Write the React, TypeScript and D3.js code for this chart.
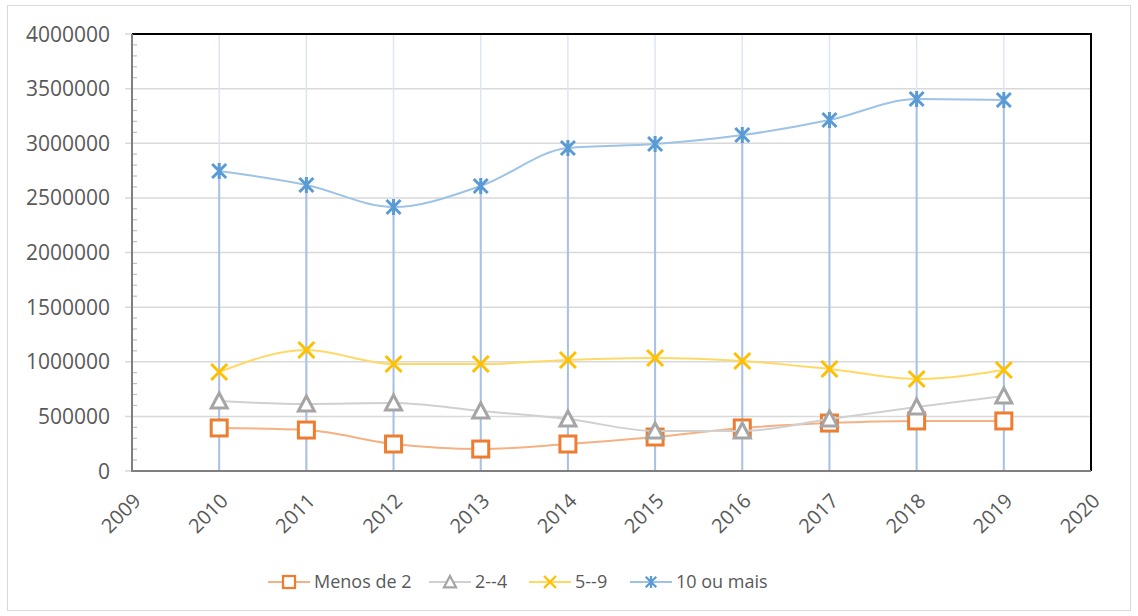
import * as d3 from "d3";
import { useEffect, useRef } from "react";

const years = [2010, 2011, 2012, 2013, 2014, 2015, 2016, 2017, 2018, 2019];
const xTicks = [2009, 2010, 2011, 2012, 2013, 2014, 2015, 2016, 2017, 2018, 2019, 2020];
const yTicks = [0, 500000, 1000000, 1500000, 2000000, 2500000, 3000000, 3500000, 4000000];

const menosDe2 = [394000, 375000, 247000, 201000, 247000, 311000, 394000, 439000, 458000, 458000];
const doisQuatro = [641000, 613000, 622000, 549000, 476000, 366000, 366000, 476000, 586000, 686000];
const cincoNove = [906000, 1108000, 979000, 979000, 1016000, 1034000, 1007000, 934000, 842000, 924000];
const dezOuMais = [2746000, 2618000, 2416000, 2609000, 2957000, 2993000, 3075000, 3213000, 3405000, 3396000];

const seriesNames = ["Menos de 2", "2--4", "5--9", "10 ou mais"];

type Marker = "square" | "triangle" | "x" | "star";

const series: { name: string; values: number[]; line: string; mark: string; marker: Marker }[] = [
  { name: seriesNames[0], values: menosDe2, line: "#f4b183", mark: "#ed7d31", marker: "square" },
  { name: seriesNames[1], values: doisQuatro, line: "#d0d0d0", mark: "#a5a5a5", marker: "triangle" },
  { name: seriesNames[2], values: cincoNove, line: "#ffd966", mark: "#ffc000", marker: "x" },
  { name: seriesNames[3], values: dezOuMais, line: "#9dc3e6", mark: "#5b9bd5", marker: "star" },
];

const FONT = "'Open Sans', 'Noto Sans', sans-serif";
const TEXT = "#595959";

const drawMarker = (g: any, kind: Marker, cx: number, cy: number, color: string) => {
  const s = 8;
  if (kind === "square") {
    g.append("rect")
      .attr("x", cx - s).attr("y", cy - s)
      .attr("width", 2 * s).attr("height", 2 * s)
      .attr("fill", "#fff").attr("stroke", color).attr("stroke-width", 3);
  } else if (kind === "triangle") {
    g.append("path")
      .attr("d", `M${cx},${cy - s}L${cx + s},${cy + s - 1}L${cx - s},${cy + s - 1}Z`)
      .attr("fill", "#fff").attr("stroke", color).attr("stroke-width", 3)
      .attr("stroke-linejoin", "miter");
  } else if (kind === "x") {
    const r = 8;
    g.append("path")
      .attr("d", `M${cx - r},${cy - r}L${cx + r},${cy + r}M${cx - r},${cy + r}L${cx + r},${cy - r}`)
      .attr("stroke", color).attr("stroke-width", 3).attr("fill", "none");
  } else {
    const r = 7;
    g.append("path")
      .attr("d", `M${cx - r},${cy - r}L${cx + r},${cy + r}M${cx - r},${cy + r}L${cx + r},${cy - r}M${cx},${cy - r - 1}L${cx},${cy + r + 1}`)
      .attr("stroke", color).attr("stroke-width", 3).attr("fill", "none");
  }
};

export default function App() {
  const ref = useRef<SVGSVGElement>(null);

  const W = 1138, H = 616;
  const plot = { left: 132, right: 1091, top: 34, bottom: 471 };

  useEffect(() => {
    const svg = d3.select(ref.current);
    svg.selectAll("*").remove();

    const x = d3.scaleLinear().domain([2009, 2020]).range([plot.left, plot.right]);
    const y = d3.scaleLinear().domain([0, 4000000]).range([plot.bottom, plot.top]);

    // outer chart border
    svg.append("rect")
      .attr("x", 7.5).attr("y", 5.5).attr("width", 1123).attr("height", 605)
      .attr("fill", "#fff").attr("stroke", "#d9d9d9");

    // horizontal gridlines + major ticks
    const grid = svg.append("g");
    grid.selectAll("line.h")
      .data(yTicks)
      .join("line")
      .attr("x1", plot.left - 7).attr("x2", plot.right)
      .attr("y1", (d) => y(d)).attr("y2", (d) => y(d))
      .attr("stroke", "#d9d9d9").attr("stroke-width", 1.5);

    // faint vertical gridlines
    grid.selectAll("line.v")
      .data(years)
      .join("line")
      .attr("class", "v")
      .attr("x1", (d) => x(d)).attr("x2", (d) => x(d))
      .attr("y1", plot.top).attr("y2", plot.bottom)
      .attr("stroke", "#dde6f4").attr("stroke-width", 1.5);

    // drop lines from highest point
    const tops = years.map((yr, i) => d3.max(series, (s) => s.values[i]) as number);
    grid.selectAll("line.drop")
      .data(years)
      .join("line")
      .attr("class", "drop")
      .attr("x1", (d) => x(d)).attr("x2", (d) => x(d))
      .attr("y1", (d, i) => y(tops[i])).attr("y2", plot.bottom)
      .attr("stroke", "#a9c1e6").attr("stroke-width", 2);

    // minor ticks on y axis
    const minor = d3.range(100000, 4000000, 100000).filter((v) => v % 500000 !== 0);
    svg.append("g").selectAll("line")
      .data(minor)
      .join("line")
      .attr("x1", plot.left).attr("x2", plot.left + 5)
      .attr("y1", (d) => y(d)).attr("y2", (d) => y(d))
      .attr("stroke", "#bfbfbf").attr("stroke-width", 1.2);

    // plot border: top/right black
    svg.append("path")
      .attr("d", `M${plot.left},${plot.top}H${plot.right}V${plot.bottom}`)
      .attr("fill", "none").attr("stroke", "#000").attr("stroke-width", 2);

    // axes
    svg.append("line")
      .attr("x1", plot.left).attr("x2", plot.left)
      .attr("y1", plot.top).attr("y2", plot.bottom)
      .attr("stroke", "#7f7f7f").attr("stroke-width", 2);
    svg.append("line")
      .attr("x1", plot.left - 1).attr("x2", plot.right)
      .attr("y1", plot.bottom).attr("y2", plot.bottom)
      .attr("stroke", "#7f7f7f").attr("stroke-width", 2);

    // y labels
    svg.append("g").selectAll("text")
      .data(yTicks)
      .join("text")
      .attr("x", 110).attr("y", (d) => y(d))
      .attr("dy", "0.36em")
      .attr("text-anchor", "end")
      .attr("font-family", FONT).attr("font-size", 21)
      .attr("fill", TEXT)
      .text((d) => d3.format("d")(d));

    // x labels rotated
    svg.append("g").selectAll("text")
      .data(xTicks)
      .join("text")
      .attr("transform", (d) => `translate(${x(d) + 5},${plot.bottom + 26}) rotate(-45)`)
      .attr("text-anchor", "end")
      .attr("dy", "0.36em")
      .attr("font-family", FONT).attr("font-size", 20)
      .attr("fill", TEXT)
      .text((d) => String(d));

    // series
    const line = d3.line<number>()
      .x((d, i) => x(years[i]))
      .y((d) => y(d))
      .curve(d3.curveMonotoneX);

    series.forEach((s) => {
      const g = svg.append("g");
      g.append("path")
        .attr("d", line(s.values))
        .attr("fill", "none").attr("stroke", s.line).attr("stroke-width", 2);
      s.values.forEach((v, i) => drawMarker(g, s.marker, x(years[i]), y(v), s.mark));
    });

    // legend
    const legendX = [268, 429, 529, 630];
    const ly = 582;
    series.forEach((s, i) => {
      const g = svg.append("g");
      const lx = legendX[i];
      g.append("line")
        .attr("x1", lx).attr("x2", lx + 42)
        .attr("y1", ly).attr("y2", ly)
        .attr("stroke", s.line).attr("stroke-width", 2);
      const gm = g.append("g").attr("transform", `translate(${lx + 21},${ly}) scale(0.75) translate(${-(lx + 21)},${-ly})`);
      drawMarker(gm, s.marker, lx + 21, ly, s.mark);
      g.append("text")
        .attr("x", lx + 46).attr("y", ly)
        .attr("dy", "0.36em")
        .attr("font-family", FONT).attr("font-size", 18)
        .attr("fill", TEXT)
        .text(s.name);
    });
  }, []);

  return (
    <svg
      ref={ref}
      width={W}
      height={H}
      style={{ position: "absolute", left: 0, top: 0, background: "#fff" }}
    />
  );
}
